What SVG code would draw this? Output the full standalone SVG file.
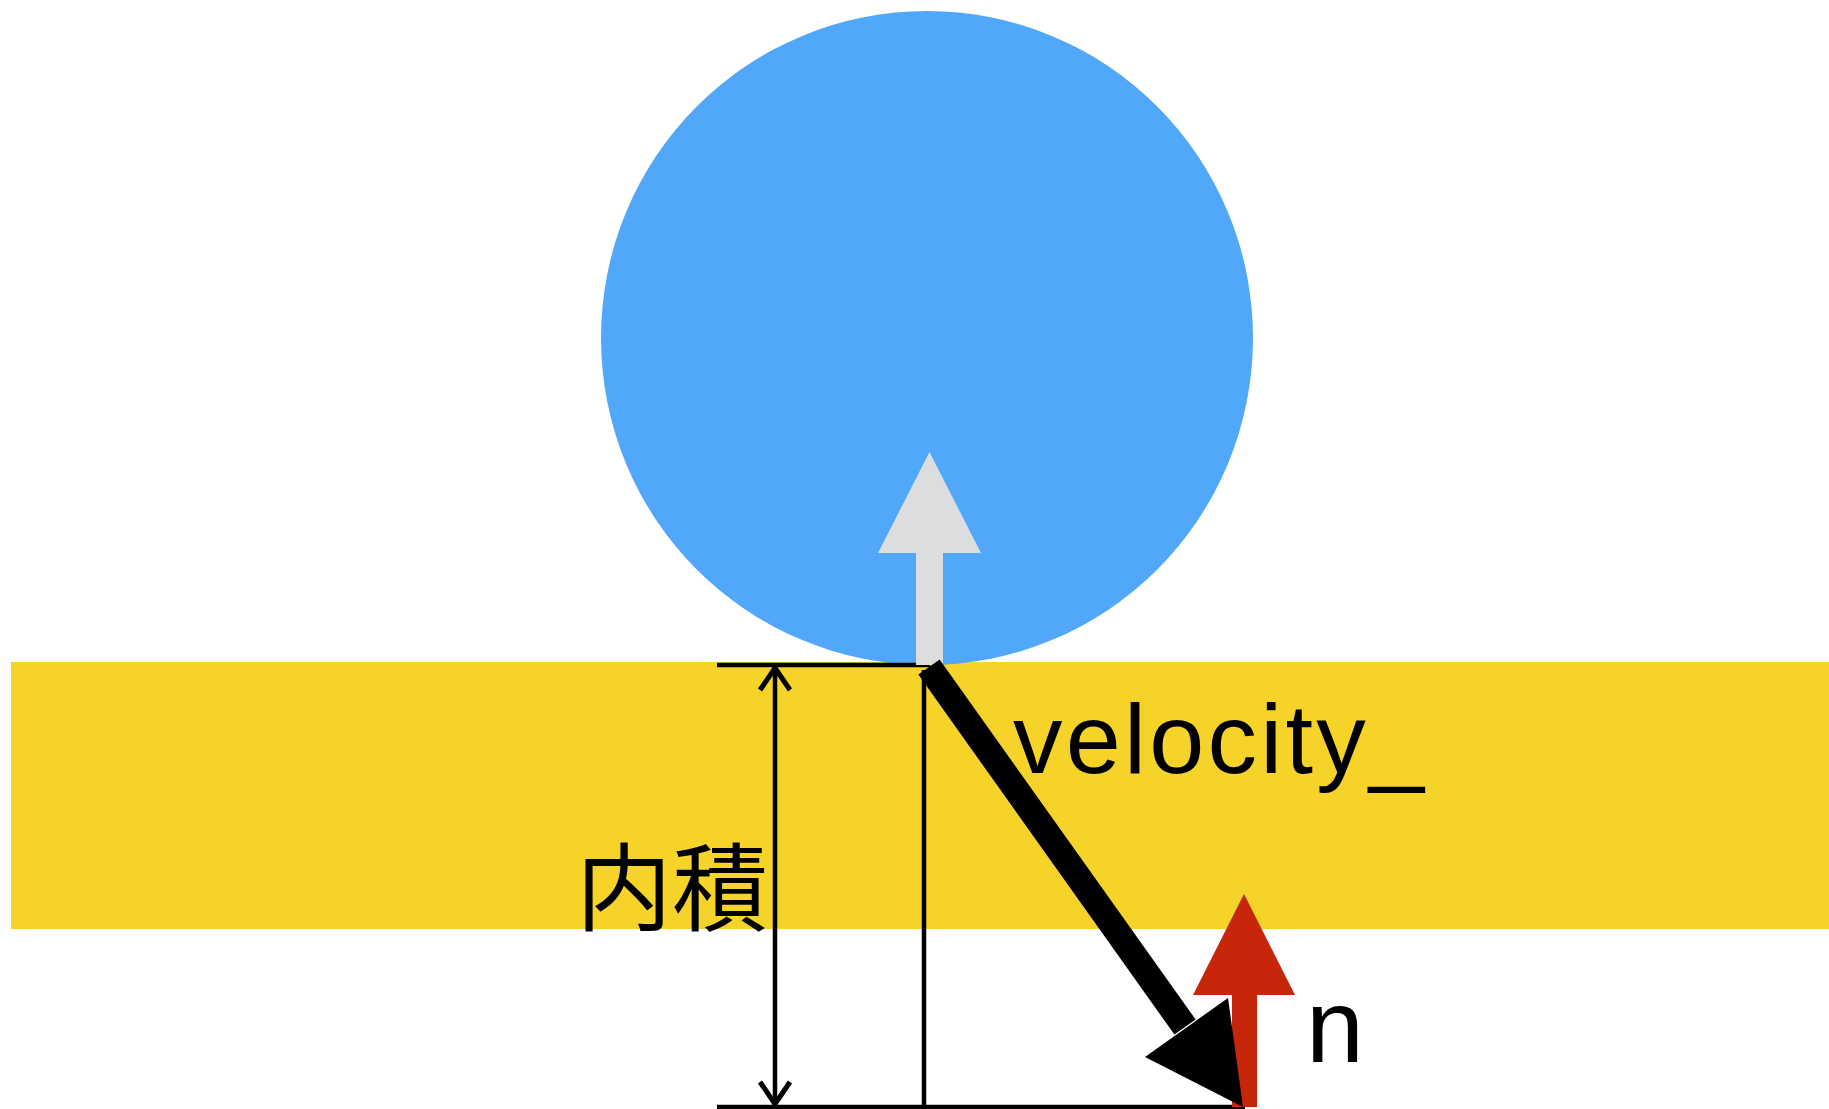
<svg xmlns="http://www.w3.org/2000/svg" width="1829" height="1109" viewBox="0 0 1829 1109">
  <defs>
    <style>
      .lbl { font-family: "Liberation Sans", Arial, sans-serif; fill: #000; }
      .cjk { font-family: "Noto Sans CJK JP", "Noto Sans CJK SC", sans-serif; fill: #000; }
      .thin { stroke: #000; stroke-width: 4.5; fill: none; }
    </style>
    <marker id="chev" viewBox="0 0 28 34" refX="24" refY="17" markerWidth="28" markerHeight="34" markerUnits="userSpaceOnUse" orient="auto-start-reverse" overflow="visible">
      <path d="M2,2 L24,17 L2,32" fill="none" stroke="#000" stroke-width="5"/>
    </marker>
  </defs>
  <rect width="1829" height="1109" fill="#fff"/>
  <g id="surface">
    <rect x="11" y="662" width="1818" height="267" fill="#F5D328"/>
  </g>
  <g id="ball">
    <ellipse cx="927" cy="338" rx="326" ry="327" fill="#51A7F9"/>
  </g>
  <g id="connectors">
    <line class="thin" x1="717" y1="665" x2="930" y2="665"/>
    <line class="thin" x1="717" y1="1107" x2="1245" y2="1107"/>
    <line class="thin" x1="924" y1="670" x2="924" y2="1107"/>
    <line class="thin" x1="775" y1="668" x2="775" y2="1104" marker-start="url(#chev)" marker-end="url(#chev)"/>
  </g>
  <g id="reflect-arrow">
    <polygon points="916,665 943,665 943,553 981,553 929.5,452 878,553 916,553" fill="#DCDDDE"/>
  </g>
  <g id="normal-arrow">
    <polygon points="1232,1107 1257,1107 1257,995 1295,995 1244,894 1193,995 1232,995" fill="#C8260A"/>
  </g>
  <g id="velocity-arrow">
    <line x1="929" y1="667" x2="1185" y2="1027" stroke="#000" stroke-width="26"/>
    <polygon points="1243,1107 1145,1057 1228,998" fill="#000"/>
  </g>
  <g id="labels">
    <text class="lbl" x="1013" y="773" font-size="99" textLength="411" lengthAdjust="spacing">velocity_</text>
    <text class="lbl" x="1306" y="1062" font-size="104">n</text>
    <text class="cjk" x="576" y="923" font-size="96">内積</text>
  </g>
</svg>
